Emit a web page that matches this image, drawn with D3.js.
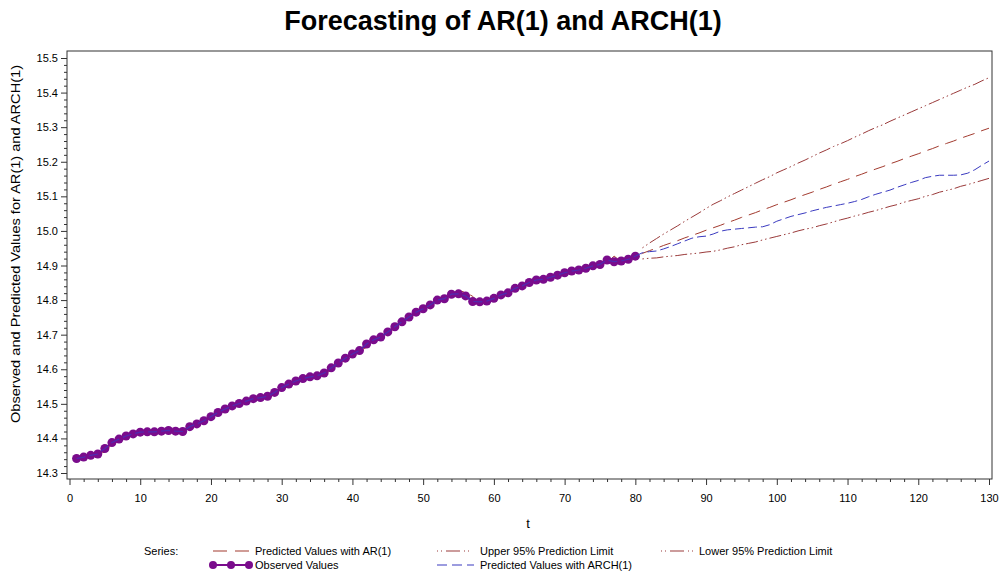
<!DOCTYPE html>
<html>
<head>
<meta charset="utf-8">
<script src="https://cdn.jsdelivr.net/npm/d3@7"></script>
<style>
  html, body { margin: 0; padding: 0; background: #fff; }
  svg { display: block; font-family: "Liberation Sans", Arial, sans-serif; }
</style>
</head>
<body>
<svg id="chart" width="999" height="573"></svg>
<script>
// ---------- DATA ----------
const title = "Forecasting of AR(1) and ARCH(1)";
const yLabel = "Observed and Predicted Values for AR(1) and ARCH(1)";
const xLabel = "t";
const xTicks = [0, 10, 20, 30, 40, 50, 60, 70, 80, 90, 100, 110, 120, 130];
const yTicks = [14.3, 14.4, 14.5, 14.6, 14.7, 14.8, 14.9, 15.0, 15.1, 15.2, 15.3, 15.4, 15.5];

// Observed values, t = 1..80
const observed = [
  14.342, 14.346, 14.351, 14.355, 14.371, 14.388, 14.398, 14.407, 14.413, 14.418,
  14.419, 14.419, 14.421, 14.423, 14.421, 14.420, 14.434, 14.442, 14.451, 14.463,
  14.475, 14.485, 14.494, 14.501, 14.508, 14.515, 14.518, 14.522, 14.533, 14.547,
  14.557, 14.566, 14.573, 14.578, 14.581, 14.589, 14.604, 14.618, 14.632, 14.644,
  14.654, 14.673, 14.685, 14.693, 14.708, 14.723, 14.737, 14.751, 14.765, 14.775,
  14.786, 14.800, 14.804, 14.817, 14.818, 14.812, 14.796, 14.795, 14.797, 14.805,
  14.815, 14.821, 14.834, 14.841, 14.851, 14.858, 14.860, 14.866, 14.872, 14.879,
  14.884, 14.887, 14.892, 14.899, 14.903, 14.916, 14.911, 14.913, 14.918, 14.927
];

// Predicted values with AR(1), t = 2..130
const arPredicted = [
  14.349, 14.351, 14.357, 14.360, 14.384, 14.401, 14.407, 14.415, 14.420,
  14.424, 14.423, 14.422, 14.425, 14.427, 14.423, 14.422, 14.445, 14.450, 14.459,
  14.473, 14.485, 14.494, 14.502, 14.508, 14.515, 14.522, 14.523, 14.527, 14.543,
  14.558, 14.566, 14.574, 14.580, 14.584, 14.586, 14.597, 14.616, 14.629, 14.643,
  14.654, 14.663, 14.687, 14.695, 14.701, 14.720, 14.735, 14.748, 14.762, 14.776,
  14.784, 14.796, 14.811, 14.809, 14.828, 14.822, 14.811, 14.789, 14.797, 14.801,
  14.813, 14.824, 14.828, 14.845, 14.848, 14.860, 14.865, 14.864, 14.873, 14.879,
  14.886, 14.890, 14.892, 14.898, 14.906, 14.908, 14.927, 14.911, 14.917, 14.924,
  14.935, 14.943, 14.950, 14.958, 14.965, 14.972, 14.980, 14.987, 14.994, 15.002,
  15.009, 15.016, 15.024, 15.031, 15.039, 15.046, 15.053, 15.061, 15.068, 15.076,
  15.083, 15.090, 15.098, 15.105, 15.112, 15.120, 15.127, 15.135, 15.142, 15.149,
  15.157, 15.164, 15.172, 15.179, 15.186, 15.194, 15.201, 15.209, 15.216, 15.223,
  15.231, 15.238, 15.246, 15.253, 15.260, 15.268, 15.275, 15.282, 15.290, 15.297
];

// Upper / lower 95% prediction limits, t = 81..130
const upper95 = [
  14.951, 14.965, 14.978, 14.991, 15.003, 15.015, 15.028, 15.040, 15.052, 15.065,
  15.077, 15.087, 15.098, 15.108, 15.118, 15.128, 15.138, 15.148, 15.157, 15.168,
  15.177, 15.186, 15.196, 15.205, 15.215, 15.225, 15.234, 15.244, 15.252, 15.261,
  15.271, 15.280, 15.290, 15.299, 15.307, 15.317, 15.326, 15.335, 15.344, 15.353,
  15.362, 15.371, 15.380, 15.389, 15.398, 15.407, 15.416, 15.424, 15.434, 15.443
];
const lower95 = [
  14.919, 14.921, 14.922, 14.925, 14.927, 14.929, 14.932, 14.934, 14.936, 14.939,
  14.941, 14.945, 14.950, 14.954, 14.960, 14.964, 14.968, 14.974, 14.979, 14.984,
  14.989, 14.994, 15.000, 15.005, 15.009, 15.015, 15.020, 15.026, 15.032, 15.037,
  15.043, 15.048, 15.054, 15.059, 15.065, 15.071, 15.076, 15.083, 15.088, 15.093,
  15.100, 15.105, 15.112, 15.117, 15.122, 15.129, 15.134, 15.140, 15.146, 15.152
];

// Predicted values with ARCH(1), forecast part t = 81..130
const archForecast = [
  14.937, 14.940, 14.942, 14.948, 14.955, 14.963, 14.971, 14.979, 14.983, 14.985,
  14.991, 14.999, 15.003, 15.005, 15.007, 15.009, 15.011, 15.012, 15.018, 15.028,
  15.035, 15.042, 15.047, 15.052, 15.058, 15.063, 15.068, 15.072, 15.076, 15.080,
  15.085, 15.091, 15.099, 15.106, 15.112, 15.118, 15.126, 15.133, 15.140, 15.146,
  15.154, 15.158, 15.161, 15.161, 15.161, 15.162, 15.167, 15.177, 15.190, 15.202
];

const legendItems = [
  { key: "ar",    label: "Predicted Values with AR(1)",  col: 0, row: 0 },
  { key: "upper", label: "Upper 95% Prediction Limit",   col: 1, row: 0 },
  { key: "lower", label: "Lower 95% Prediction Limit",   col: 2, row: 0 },
  { key: "obs",   label: "Observed Values",              col: 0, row: 1 },
  { key: "arch",  label: "Predicted Values with ARCH(1)", col: 1, row: 1 }
];

// ---------- STYLE ----------
const C = {
  ar: "#A23A2E",
  limit: "#9A3A3A",
  arch: "#3A3AC0",
  obs: "#7A0C8C",
  axis: "#333333",
  text: "#000000"
};
const dash = {
  ar: "12,7",
  limit: "1.5,3,1.5,3,12,3",
  arch: "9,4"
};

// ---------- BUILD ----------
const svg = d3.select("#chart");
const frame = { left: 67, right: 992, top: 51, bottom: 479 };
const x = d3.scaleLinear().domain([0, 130]).range([69.5, 989]);
const y = d3.scaleLinear().domain([14.3, 15.5]).range([473, 58]);

const tObs = observed.map((v, i) => ({ t: i + 1, v }));
const tAr = arPredicted.map((v, i) => ({ t: i + 2, v }));
const tUp = upper95.map((v, i) => ({ t: i + 81, v }));
const tLo = lower95.map((v, i) => ({ t: i + 81, v }));
const tArch = [{ t: 80, v: observed[79] }].concat(archForecast.map((v, i) => ({ t: i + 81, v })));

// Title
svg.append("text")
  .attr("x", 503).attr("y", 30)
  .attr("text-anchor", "middle")
  .style("font-size", "27px").style("font-weight", "bold")
  .text(title);

// Clip for plot area
svg.append("defs").append("clipPath").attr("id", "clip")
  .append("rect")
  .attr("x", frame.left).attr("y", frame.top)
  .attr("width", frame.right - frame.left).attr("height", frame.bottom - frame.top);

// Y axis ticks (major + minor)
const yMinor = d3.range(14.3, 15.5001, 0.02).map(v => +v.toFixed(2)).filter(v => !yTicks.some(m => Math.abs(m - v) < 1e-6));
const yAxisG = svg.append("g").attr("transform", `translate(${frame.left},0)`)
  .call(d3.axisLeft(y).tickValues(yTicks).tickSize(6).tickPadding(3).tickFormat(d3.format(".1f")));
yAxisG.select(".domain").remove();
yAxisG.selectAll("line").attr("stroke", C.axis);
yAxisG.selectAll("text").style("font-size", "11px").style("font-family", "Liberation Sans, Arial, sans-serif").attr("fill", C.text);
const yMinorG = svg.append("g").attr("transform", `translate(${frame.left},0)`)
  .call(d3.axisLeft(y).tickValues(yMinor).tickSize(3).tickFormat(""));
yMinorG.select(".domain").remove();
yMinorG.selectAll("line").attr("stroke", C.axis);

// X axis ticks
const xMinor = d3.range(0, 131, 2).filter(v => v % 10 !== 0);
const xAxisG = svg.append("g").attr("transform", `translate(0,${frame.bottom})`)
  .call(d3.axisBottom(x).tickValues(xTicks).tickSize(6).tickPadding(9).tickFormat(d3.format("d")));
xAxisG.select(".domain").remove();
xAxisG.selectAll("line").attr("stroke", C.axis);
xAxisG.selectAll("text").style("font-size", "11px").style("font-family", "Liberation Sans, Arial, sans-serif").attr("fill", C.text);
const xMinorG = svg.append("g").attr("transform", `translate(0,${frame.bottom})`)
  .call(d3.axisBottom(x).tickValues(xMinor).tickSize(3).tickFormat(""));
xMinorG.select(".domain").remove();
xMinorG.selectAll("line").attr("stroke", C.axis);

// Axis labels
svg.append("text")
  .attr("transform", `translate(20,244) rotate(-90)`)
  .attr("text-anchor", "middle")
  .attr("textLength", 358)
  .attr("lengthAdjust", "spacingAndGlyphs")
  .style("font-size", "12.5px")
  .text(yLabel);
svg.append("text")
  .attr("x", 528).attr("y", 528)
  .attr("text-anchor", "middle")
  .style("font-size", "13px")
  .text(xLabel);

// Series
const plot = svg.append("g").attr("clip-path", "url(#clip)");
const line = d3.line().x(d => x(d.t)).y(d => y(d.v));

plot.append("path").datum(tAr).attr("d", line)
  .attr("fill", "none").attr("stroke", C.ar).attr("stroke-width", 1)
  .attr("stroke-dasharray", dash.ar);
plot.append("path").datum(tUp).attr("d", line)
  .attr("fill", "none").attr("stroke", C.limit).attr("stroke-width", 1)
  .attr("stroke-dasharray", dash.limit);
plot.append("path").datum(tLo).attr("d", line)
  .attr("fill", "none").attr("stroke", C.limit).attr("stroke-width", 1)
  .attr("stroke-dasharray", dash.limit);
plot.append("path").datum(tObs).attr("d", line)
  .attr("fill", "none").attr("stroke", C.obs).attr("stroke-width", 2);
plot.selectAll("circle.obs").data(tObs).enter().append("circle")
  .attr("class", "obs")
  .attr("cx", d => x(d.t)).attr("cy", d => y(d.v)).attr("r", 4.5)
  .attr("fill", C.obs);
// ARCH(1): in-sample fit follows observed values, then forecast
plot.append("path").datum(tObs).attr("d", line)
  .attr("fill", "none").attr("stroke", C.arch).attr("stroke-width", 1.2)
  .attr("stroke-opacity", 0.7)
  .attr("stroke-dasharray", dash.arch);
plot.append("path").datum(tArch).attr("d", line)
  .attr("fill", "none").attr("stroke", C.arch).attr("stroke-width", 1)
  .attr("stroke-dasharray", dash.arch);

// Frame
svg.append("rect")
  .attr("x", frame.left).attr("y", frame.top)
  .attr("width", frame.right - frame.left).attr("height", frame.bottom - frame.top)
  .attr("fill", "none").attr("stroke", C.axis).attr("stroke-width", 1);

// Legend
const lg = svg.append("g").style("font-size", "11px");
lg.append("text").attr("x", 144).attr("y", 555).text("Series:");
const colX = [213, 437, 661];
const rowY = [551, 565];
const sampleW = [36, 37, 32];
legendItems.forEach(it => {
  const x0 = colX[it.col], yy = rowY[it.row], w = sampleW[it.col];
  const g = lg.append("g");
  if (it.key === "obs") {
    g.append("line").attr("x1", x0).attr("x2", x0 + w).attr("y1", yy).attr("y2", yy)
      .attr("stroke", C.obs).attr("stroke-width", 2);
    [0, 0.5, 1].forEach(f => g.append("circle").attr("cx", x0 + f * w).attr("cy", yy).attr("r", 4).attr("fill", C.obs));
  } else {
    const col = it.key === "ar" ? C.ar : it.key === "arch" ? C.arch : C.limit;
    const da = it.key === "ar" ? "14,8" : it.key === "arch" ? "10,5" : "1,3,1,4,14,4,1,3,1,10";
    g.append("line").attr("x1", x0).attr("x2", x0 + w).attr("y1", yy).attr("y2", yy)
      .attr("stroke", col).attr("stroke-width", 1.2).attr("stroke-dasharray", da);
  }
  lg.append("text").attr("x", x0 + w + 6).attr("y", yy + 4).text(it.label);
});
</script>
</body>
</html>
